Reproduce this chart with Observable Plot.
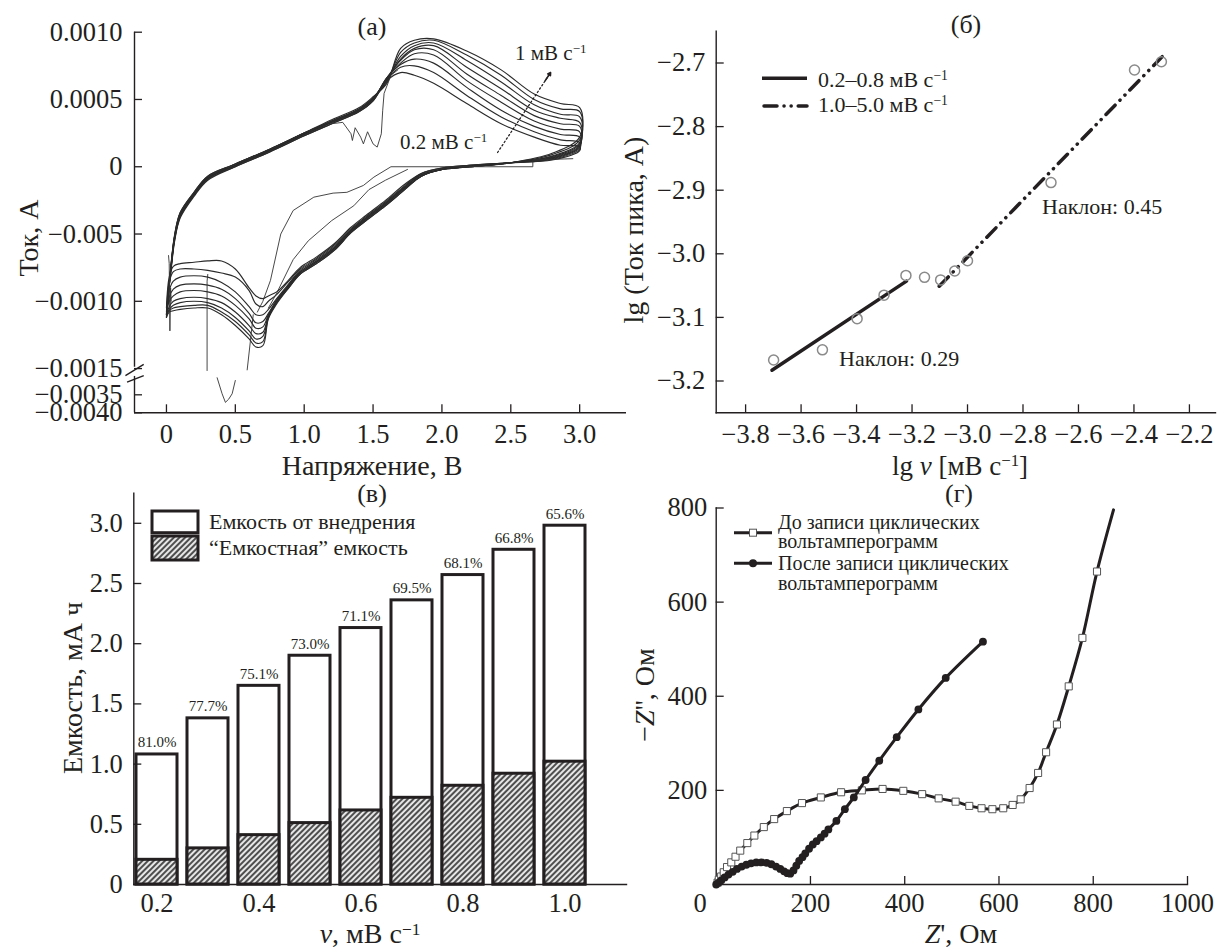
<!DOCTYPE html>
<html><head><meta charset="utf-8">
<script src="https://cdn.jsdelivr.net/npm/d3@7"></script>
<script src="https://cdn.jsdelivr.net/npm/@observablehq/plot@0.6"></script>
<style>
body{margin:0;background:#fff;}
#root{position:relative;width:1217px;height:950px;overflow:hidden;font-family:"Liberation Serif","DejaVu Serif",serif;color:#231f20;}
.p{position:absolute;}
.t{position:absolute;white-space:nowrap;transform:translate(-50%,-50%);line-height:0.9;}
.l{position:absolute;white-space:nowrap;transform:translate(0,-50%);line-height:0.9;}
.r{position:absolute;white-space:nowrap;transform:translate(-50%,-50%) rotate(-90deg);line-height:0.9;}
sup{font-size:0.62em;vertical-align:0.5em;line-height:0}
</style></head><body><div id="root"></div>
<script>
// ---------------- Panel (а): cyclic voltammograms (current in mA) ----------------
const cvScanRates = ["0.2","0.3","0.4","0.5","0.6","0.7","0.8","0.9","1.0"];
const cvAnodicV = [0,0.03,0.06,0.1,0.2,0.3,0.5,0.75,1.0,1.2,1.4,1.5,1.6,1.7,1.8,1.94,2.18,2.43,2.67,2.86,3.0];
const cvAnodicI = [
 [-1.05,-0.80,-0.55,-0.38,-0.22,-0.10,0.00,0.11,0.23,0.32,0.41,0.49,0.64,0.70,0.68,0.62,0.47,0.32,0.22,0.16,0.15],
 [-1.08,-0.79,-0.54,-0.37,-0.21,-0.09,0.00,0.11,0.23,0.32,0.41,0.49,0.65,0.74,0.75,0.70,0.53,0.37,0.26,0.20,0.18],
 [-1.10,-0.79,-0.53,-0.37,-0.21,-0.09,0.01,0.12,0.24,0.33,0.42,0.50,0.66,0.76,0.80,0.77,0.59,0.42,0.30,0.24,0.22],
 [-1.11,-0.78,-0.53,-0.36,-0.21,-0.09,0.01,0.12,0.24,0.33,0.42,0.50,0.66,0.77,0.84,0.83,0.64,0.48,0.34,0.28,0.26],
 [-1.12,-0.78,-0.52,-0.36,-0.20,-0.08,0.01,0.12,0.24,0.33,0.42,0.50,0.66,0.79,0.87,0.87,0.69,0.53,0.38,0.32,0.30],
 [-1.10,-0.77,-0.52,-0.35,-0.20,-0.08,0.01,0.12,0.25,0.34,0.43,0.51,0.65,0.80,0.88,0.90,0.74,0.58,0.42,0.36,0.33],
 [-1.09,-0.77,-0.51,-0.35,-0.20,-0.08,0.02,0.13,0.25,0.34,0.43,0.51,0.64,0.82,0.90,0.92,0.79,0.63,0.46,0.39,0.37],
 [-1.10,-0.76,-0.51,-0.34,-0.19,-0.07,0.02,0.13,0.25,0.34,0.43,0.51,0.63,0.85,0.92,0.94,0.83,0.68,0.50,0.43,0.41],
 [-1.12,-0.76,-0.50,-0.34,-0.19,-0.07,0.02,0.13,0.25,0.35,0.44,0.52,0.62,0.88,0.94,0.95,0.86,0.72,0.54,0.47,0.44]
];
const cvCathodicV = [3.0,2.8,2.5,2.2,2.0,1.85,1.73,1.59,1.45,1.34,1.22,1.09,0.97,0.88,0.80,0.74,0.70,0.65,0.60,0.5,0.4,0.3,0.2,0.1,0.05,0.02,0];
const cvCathodicI = [
 [0.12,0.05,0.03,0.01,-0.01,-0.05,-0.13,-0.25,-0.36,-0.45,-0.57,-0.67,-0.75,-0.85,-0.93,-0.96,-0.98,-0.96,-0.90,-0.76,-0.70,-0.70,-0.71,-0.72,-0.74,-0.82,-1.05],
 [0.13,0.055,0.03,0.01,-0.01,-0.05,-0.14,-0.26,-0.37,-0.46,-0.58,-0.68,-0.76,-0.86,-0.95,-1.00,-1.04,-1.02,-0.92,-0.82,-0.79,-0.77,-0.76,-0.76,-0.78,-0.86,-1.08],
 [0.14,0.06,0.03,0.01,-0.02,-0.06,-0.15,-0.27,-0.38,-0.47,-0.59,-0.69,-0.77,-0.88,-0.98,-1.06,-1.10,-1.10,-1.04,-0.93,-0.86,-0.82,-0.81,-0.82,-0.85,-0.92,-1.10],
 [0.15,0.065,0.03,0.00,-0.02,-0.06,-0.15,-0.27,-0.38,-0.47,-0.60,-0.70,-0.78,-0.89,-0.99,-1.09,-1.15,-1.16,-1.09,-0.98,-0.91,-0.88,-0.87,-0.88,-0.91,-0.97,-1.11],
 [0.16,0.07,0.03,0.00,-0.02,-0.06,-0.15,-0.27,-0.38,-0.48,-0.60,-0.70,-0.78,-0.89,-1.00,-1.10,-1.19,-1.20,-1.13,-1.03,-0.96,-0.93,-0.92,-0.93,-0.96,-1.00,-1.12],
 [0.17,0.075,0.03,0.00,-0.02,-0.07,-0.16,-0.28,-0.39,-0.48,-0.61,-0.71,-0.79,-0.90,-1.00,-1.11,-1.23,-1.24,-1.18,-1.08,-1.01,-0.98,-0.97,-0.98,-1.00,-1.04,-1.10],
 [0.18,0.08,0.03,0.00,-0.02,-0.07,-0.16,-0.28,-0.39,-0.48,-0.61,-0.71,-0.79,-0.90,-1.01,-1.12,-1.26,-1.28,-1.22,-1.12,-1.05,-1.01,-1.00,-1.01,-1.03,-1.06,-1.09],
 [0.20,0.09,0.03,0.00,-0.02,-0.07,-0.17,-0.29,-0.40,-0.49,-0.62,-0.72,-0.80,-0.91,-1.01,-1.12,-1.30,-1.31,-1.25,-1.15,-1.08,-1.03,-1.03,-1.04,-1.05,-1.07,-1.10],
 [0.22,0.10,0.03,0.00,-0.02,-0.07,-0.17,-0.29,-0.40,-0.49,-0.62,-0.72,-0.80,-0.91,-1.02,-1.13,-1.33,-1.34,-1.28,-1.18,-1.10,-1.05,-1.05,-1.06,-1.07,-1.08,-1.12]
];
// thin irregular traces (first cycles, noise, spikes)
const cvExtraV = [
 [2.95,2.66,2.66,1.63,1.506,1.43,1.31,1.21,1.07,0.92,0.83,0.755,0.70,0.66],
 [1.75,1.59,1.47,1.36,1.20,1.03,0.92,0.80,0.74],
 [1.20,1.28,1.34,1.35,1.37,1.41,1.43,1.46,1.50,1.53,1.56,1.57,1.58,1.63,1.68],
 [0.30,0.295,0.295],
 [0.63,0.61,0.586],
 [0.368,0.404,0.428,0.452,0.477,0.50],
 [0.015,0.02,0.025,0.03,0.035]
];
const cvExtraI = [
 [0.06,0.05,0.0,0.0,-0.077,-0.139,-0.19,-0.196,-0.226,-0.325,-0.50,-0.845,-1.0,-1.08],
 [-0.02,-0.10,-0.17,-0.29,-0.40,-0.55,-0.69,-0.94,-1.05],
 [0.32,0.33,0.245,0.195,0.29,0.22,0.17,0.26,0.17,0.146,0.245,0.42,0.545,0.68,0.72],
 [-0.80,-0.85,-1.65],
 [-1.10,-1.29,-1.60],
 [-2.2,-3.42,-3.71,-3.62,-3.42,-2.41],
 [-0.66,-0.72,-1.22,-0.90,-1.00]
];
const aYTicksReal = [1.0, 0.5, 0, -0.5, -1.0, -1.5, -3.5, -4.0];
const aYTickLabels = ["0.0010","0.0005","0","−0.005","−0.0010","−0.0015","−0.0035","−0.0040"];
const aXTicks = [0, 0.5, 1.0, 1.5, 2.0, 2.5, 3.0];
const aXTickLabels = ["0","0.5","1.0","1.5","2.0","2.5","3.0"];

// ---------------- Panel (б) ----------------
const lgV = [-3.699,-3.523,-3.398,-3.301,-3.222,-3.155,-3.097,-3.046,-3.0,-2.699,-2.398,-2.301];
const lgI = [-3.167,-3.151,-3.102,-3.065,-3.034,-3.037,-3.041,-3.027,-3.011,-2.888,-2.711,-2.698];
const fitSlowX = [-3.705, -3.22], fitSlowY = [-3.183, -3.043];
const fitFastX = [-3.102, -2.298], fitFastY = [-3.051, -2.690];
const bXTicks = [-3.8,-3.6,-3.4,-3.2,-3.0,-2.8,-2.6,-2.4,-2.2];
const bXTickLabels = ["−3.8","−3.6","−3.4","−3.2","−3.0","−2.8","−2.6","−2.4","−2.2"];
const bYTicks = [-3.2,-3.1,-3.0,-2.9,-2.8,-2.7];
const bYTickLabels = ["−3.2","−3.1","−3.0","−2.9","−2.8","−2.7"];

// ---------------- Panel (в) ----------------
const cRates = ["0.2","0.3","0.4","0.5","0.6","0.7","0.8","0.9","1.0"];
const cTotal = [1.08,1.38,1.65,1.90,2.13,2.36,2.57,2.78,2.98];
const cCapacitive = [0.205,0.30,0.41,0.51,0.615,0.72,0.82,0.92,1.02];
const cPercent = ["81.0%","77.7%","75.1%","73.0%","71.1%","69.5%","68.1%","66.8%","65.6%"];
const cXTicks = ["0.2","0.4","0.6","0.8","1.0"];
const cYTicks = [0,0.5,1.0,1.5,2.0,2.5,3.0];
const cYTickLabels = ["0","0.5","1.0","1.5","2.0","2.5","3.0"];

// ---------------- Panel (г) ----------------
const zBeforeRe = [3,5.5,10.6,16,23,32,41,51,66,81,101,123,150,182,222,265,309,353,397,437,472,508,537,563,586,609,629,646,665,683,700,723,748,777,808,843];
const zBeforeIm = [4,10,17,26,37,47,59,72,88,104,122,139,156,173,185,196,200,203,199,192,183,176,167,162,160,162,169,181,205,237,281,340,421,524,665,796];
const zAfterRe = [0,5,11,18,26,35,44,54,64,74,85,96,107,117,127,136,144,151,157,164,170,176,183,189,197,205,213,222,230,238,255,273,292,317,346,383,429,487,566];
const zAfterIm = [0,4,9,15,21,27,33,38,42,45,47,47,46,43,38,33,28,24,23,30,40,50,58,66,76,85,92,100,108,117,135,160,185,222,263,313,372,439,516];
const dXTicks = [200,400,600,800,1000];
const dYTicks = [200,400,600,800];

// ---------------- helpers ----------------
const ink = "#231f20";
const font = '"Liberation Serif","DejaVu Serif",serif';
const style = {fontFamily: font, fontSize: "26.5px", color: ink, background: "transparent", overflow: "visible"};
const root = document.getElementById("root");
function place(node, left, top){ node.classList.add("p"); node.style.left = left + "px"; node.style.top = top + "px"; root.appendChild(node); return node; }
function txt(cls, x, y, html, size){ const d = document.createElement("div"); d.className = cls; d.style.left = x + "px"; d.style.top = y + "px"; d.style.fontSize = size + "px"; d.innerHTML = html; root.appendChild(d); return d; }

// broken y-axis mapping for panel (а): real mA -> display units
const breakHi = -1.5, breakLo = -3.5, gapScale = 0.0975, lowScale = 0.2674;
function pseudo(i){
  if (i >= breakHi) return i;
  if (i >= breakLo) return breakHi + (i - breakHi) * gapScale;
  return breakHi + (breakLo - breakHi) * gapScale + (i - breakLo) * lowScale;
}

// ---------------- build panel (а) ----------------
const cvRows = [];
cvScanRates.forEach((r, k) => {
  cvAnodicV.forEach((v, j) => cvRows.push({k: "c" + k, v, i: cvAnodicI[k][j]}));
  cvCathodicV.forEach((v, j) => cvRows.push({k: "c" + k, v, i: cvCathodicI[k][j]}));
});
const extraRows = [];
cvExtraV.forEach((arr, k) => arr.forEach((v, j) => extraRows.push({k: "e" + k, v, i: cvExtraI[k][j]})));
const aXmin = -0.232, aXmax = 3.34, aYtop = 1.0, aYbot = pseudo(-4.0);
const aYMap = new Map(aYTicksReal.map((t, j) => [pseudo(t), aYTickLabels[j]]));
const aXMap = new Map(aXTicks.map((t, j) => [t, aXTickLabels[j]]));
const axisSegs = [{y1: aYtop, y2: pseudo(-1.49)}, {y1: pseudo(-2.1), y2: aYbot}];
const breakMarks = [
  {x1: aXmin - 0.066, y1: pseudo(-2.04), x2: aXmin + 0.067, y2: -1.469},
  {x1: aXmin - 0.054, y1: pseudo(-2.53), x2: aXmin + 0.067, y2: pseudo(-2.04)}
];
const plotA = Plot.plot({
  width: 630, height: 470, marginLeft: 134, marginRight: 4, marginTop: 31.7, marginBottom: 57.7,
  x: {domain: [aXmin, aXmax], label: null}, y: {domain: [aYbot, aYtop], label: null}, style,
  marks: [
    Plot.ruleY([aYbot], {strokeWidth: 1.4, stroke: ink}),
    Plot.ruleX(axisSegs, {x: () => aXmin, y1: "y1", y2: "y2", strokeWidth: 1.4, stroke: ink}),
    Plot.link(breakMarks, {x1: "x1", y1: "y1", x2: "x2", y2: "y2", strokeWidth: 1.4, stroke: ink}),
    Plot.axisY({ticks: aYTicksReal.map(pseudo), label: null, tickSize: -8, tickPadding: 20, tickFormat: d => aYMap.get(d), strokeWidth: 1.3}),
    Plot.axisX({ticks: aXTicks, label: null, tickSize: -8, tickPadding: 19, tickFormat: d => aXMap.get(d), strokeWidth: 1.3}),
    Plot.line(cvRows, {x: "v", y: d => pseudo(d.i), z: "k", stroke: "#2b2b2b", strokeWidth: 1.15, curve: "catmull-rom"}),
    Plot.line(extraRows, {x: "v", y: d => pseudo(d.i), z: "k", stroke: "#333", strokeWidth: 0.9}),
    Plot.arrow([{x1: 2.404, y1: 0.106, x2: 2.789, y2: 0.70}], {x1: "x1", y1: "y1", x2: "x2", y2: "y2", stroke: ink, strokeWidth: 1.3, strokeDasharray: "1.5,2.5", headLength: 0}),
    Plot.arrow([{x1: 2.75, y1: 0.64, x2: 2.789, y2: 0.70}], {x1: "x1", y1: "y1", x2: "x2", y2: "y2", stroke: ink, strokeWidth: 1.6, headLength: 9})
  ]
});
place(plotA, 0, 0);

// ---------------- build panel (б) ----------------
const bXMap = new Map(bXTicks.map((t, j) => [t, bXTickLabels[j]]));
const bYMap = new Map(bYTicks.map((t, j) => [t, bYTickLabels[j]]));
const plotB = Plot.plot({
  width: 617, height: 470, marginLeft: 115.7, marginRight: 2, marginTop: 30.7, marginBottom: 57.7,
  x: {domain: [-3.906, -2.106], label: null}, y: {domain: [-3.25, -2.65], label: null}, style,
  marks: [
    Plot.frame({anchor: "left", strokeWidth: 1.4, stroke: ink}),
    Plot.frame({anchor: "bottom", strokeWidth: 1.4, stroke: ink}),
    Plot.axisY({ticks: bYTicks, label: null, tickSize: -8, tickPadding: 19, tickFormat: d => bYMap.get(d), strokeWidth: 1.3}),
    Plot.axisX({ticks: bXTicks, label: null, tickSize: -8, tickPadding: 19, tickFormat: d => bXMap.get(d), strokeWidth: 1.3}),
    Plot.line(fitSlowX.map((x, j) => ({x, y: fitSlowY[j]})), {x: "x", y: "y", stroke: ink, strokeWidth: 3.5}),
    Plot.line(fitFastX.map((x, j) => ({x, y: fitFastY[j]})), {x: "x", y: "y", stroke: ink, strokeWidth: 3.5, strokeDasharray: "13,7,0.1,7,0.1,7", strokeLinecap: "round"}),
    Plot.dot(lgV.map((x, j) => ({x, y: lgI[j]})), {x: "x", y: "y", r: 5, stroke: "#8a8a8a", strokeWidth: 1.5, fill: "none"})
  ]
});
place(plotB, 600, 0);

// ---------------- build panel (в) ----------------
const cRows = cRates.map((r, j) => ({r, total: cTotal[j], cap: cCapacitive[j], pct: cPercent[j]}));
const cYMap = new Map(cYTicks.map((t, j) => [t, cYTickLabels[j]]));
const plotC = Plot.plot({
  width: 640, height: 480, marginLeft: 133.3, marginRight: 14, marginTop: 22.7, marginBottom: 66,
  x: {type: "band", domain: cRates, paddingInner: 0.188, paddingOuter: 0.36, align: 0.073, label: null},
  y: {domain: [0, 3.25], label: null}, style,
  marks: [
    Plot.barY(cRows, {x: "r", y: "total", fill: "white", stroke: ink, strokeWidth: 3}),
    Plot.barY(cRows, {x: "r", y: "cap", fill: "url(#hatchC)", stroke: ink, strokeWidth: 3}),
    Plot.text(cRows, {x: "r", y: "total", text: "pct", dy: -12, fontSize: 15, fill: ink}),
    Plot.frame({anchor: "left", strokeWidth: 1.4, stroke: ink}),
    Plot.frame({anchor: "bottom", strokeWidth: 1.4, stroke: ink}),
    Plot.axisY({ticks: cYTicks, label: null, tickSize: -8, tickPadding: 19, tickFormat: d => cYMap.get(d), strokeWidth: 1.3}),
    Plot.axisX({ticks: cXTicks, label: null, tickSize: 0, tickPadding: 9})
  ]
});
plotC.insertAdjacentHTML("afterbegin", '<defs><pattern id="hatchC" patternUnits="userSpaceOnUse" width="4" height="4" patternTransform="rotate(45)"><rect width="4" height="4" fill="#e6e6e6"/><line x1="1" y1="0" x2="1" y2="4" stroke="#333" stroke-width="1.7"/></pattern></defs>');
place(plotC, 0, 470);

// ---------------- build panel (г) ----------------
const beforeRows = zBeforeRe.map((x, j) => ({x, y: zBeforeIm[j]}));
const afterRows = zAfterRe.map((x, j) => ({x, y: zAfterIm[j]}));
const plotD = Plot.plot({
  width: 617, height: 480, marginLeft: 115.7, marginRight: 30, marginTop: 37.5, marginBottom: 66,
  x: {domain: [0, 1000], label: null}, y: {domain: [0, 800], label: null}, style,
  marks: [
    Plot.frame({anchor: "left", strokeWidth: 1.4, stroke: ink}),
    Plot.frame({anchor: "bottom", strokeWidth: 1.4, stroke: ink}),
    Plot.axisY({ticks: dYTicks, label: null, tickSize: -8, tickPadding: 17, strokeWidth: 1.3, tickFormat: d => String(d)}),
    Plot.axisX({ticks: dXTicks, label: null, tickSize: -8, tickPadding: 17, strokeWidth: 1.3, tickFormat: d => String(d)}),
    Plot.axisX({ticks: [0], label: null, tickSize: 0, tickPadding: 9, dx: -16, tickFormat: d => String(d)}),
    Plot.line(beforeRows, {x: "x", y: "y", stroke: ink, strokeWidth: 3, curve: "catmull-rom"}),
    Plot.dot(beforeRows.slice(0, -1), {x: "x", y: "y", symbol: "square", r: 4, fill: "white", stroke: "#555", strokeWidth: 1}),
    Plot.line(afterRows, {x: "x", y: "y", stroke: ink, strokeWidth: 3, curve: "catmull-rom"}),
    Plot.dot(afterRows, {x: "x", y: "y", r: 3.9, fill: ink, stroke: "none"})
  ]
});
place(plotD, 600, 470);

// ---------------- titles, axis titles, annotations, legends ----------------
txt("t", 372, 27, "(а)", 26);
txt("r", 29, 238, "Ток, А", 28);
txt("t", 372, 466, "Напряжение, В", 28);
txt("l", 515, 53, "1 мВ с<sup>−1</sup>", 21);
txt("l", 400, 142, "0.2 мВ с<sup>−1</sup>", 21);

txt("t", 966, 25, "(б)", 26);
txt("r", 634, 230, "lg (Ток пика, А)", 28);
txt("t", 960, 466, "lg <i>v</i> [мВ с<sup>−1</sup>]", 27);
txt("l", 839, 359, "Наклон: 0.29", 22);
txt("l", 1042, 207, "Наклон: 0.45", 22);
const legB = document.createElement("div");
legB.innerHTML = '<svg width="52" height="46"><line x1="2" y1="8.3" x2="47" y2="8.3" stroke="#231f20" stroke-width="3.5"/><line x1="4" y1="36" x2="47" y2="36" stroke="#231f20" stroke-width="3.5" stroke-dasharray="13,7,0.1,7,0.1,7" stroke-linecap="round"/></svg>';
place(legB, 760, 70);
txt("l", 818, 80, "0.2–0.8 мВ с<sup>−1</sup>", 22);
txt("l", 818, 105, "1.0–5.0 мВ с<sup>−1</sup>", 22);

txt("t", 372, 494, "(в)", 26);
txt("r", 72.6, 688, "Емкость, мА ч", 28);
txt("t", 370, 934, "<i>v</i>, мВ с<sup>−1</sup>", 28);
const legC = document.createElement("div");
legC.innerHTML = '<svg width="52" height="56"><defs><pattern id="hatchL" patternUnits="userSpaceOnUse" width="4" height="4" patternTransform="rotate(45)"><rect width="4" height="4" fill="#e6e6e6"/><line x1="1" y1="0" x2="1" y2="4" stroke="#333" stroke-width="1.7"/></pattern></defs><rect x="2" y="2" width="46" height="21.7" fill="white" stroke="#231f20" stroke-width="3"/><rect x="2" y="27" width="46" height="24" fill="url(#hatchL)" stroke="#231f20" stroke-width="3"/></svg>';
place(legC, 150, 509);
txt("l", 209, 521.7, "Емкость от внедрения", 22);
txt("l", 209, 548, "“Емкостная” емкость", 22);

txt("t", 959, 494, "(г)", 26);
txt("r", 645, 695, "−<i>Z</i>'', Ом", 28);
txt("t", 961, 934, "<i>Z</i>', Ом", 28);
const legD = document.createElement("div");
legD.innerHTML = '<svg width="44" height="56"><line x1="2" y1="12.7" x2="40" y2="12.7" stroke="#231f20" stroke-width="3"/><rect x="17.5" y="9.2" width="7" height="7" fill="white" stroke="#555" stroke-width="1"/><line x1="2" y1="43.3" x2="40" y2="43.3" stroke="#231f20" stroke-width="3"/><circle cx="21" cy="43.3" r="4" fill="#231f20"/></svg>';
place(legD, 732, 520);
txt("l", 778, 522, "До записи циклических", 20);
txt("l", 778, 540.7, "вольтамперограмм", 20);
txt("l", 778, 563.3, "После записи циклических", 20);
txt("l", 778, 583.3, "вольтамперограмм", 20);
</script></body></html>
